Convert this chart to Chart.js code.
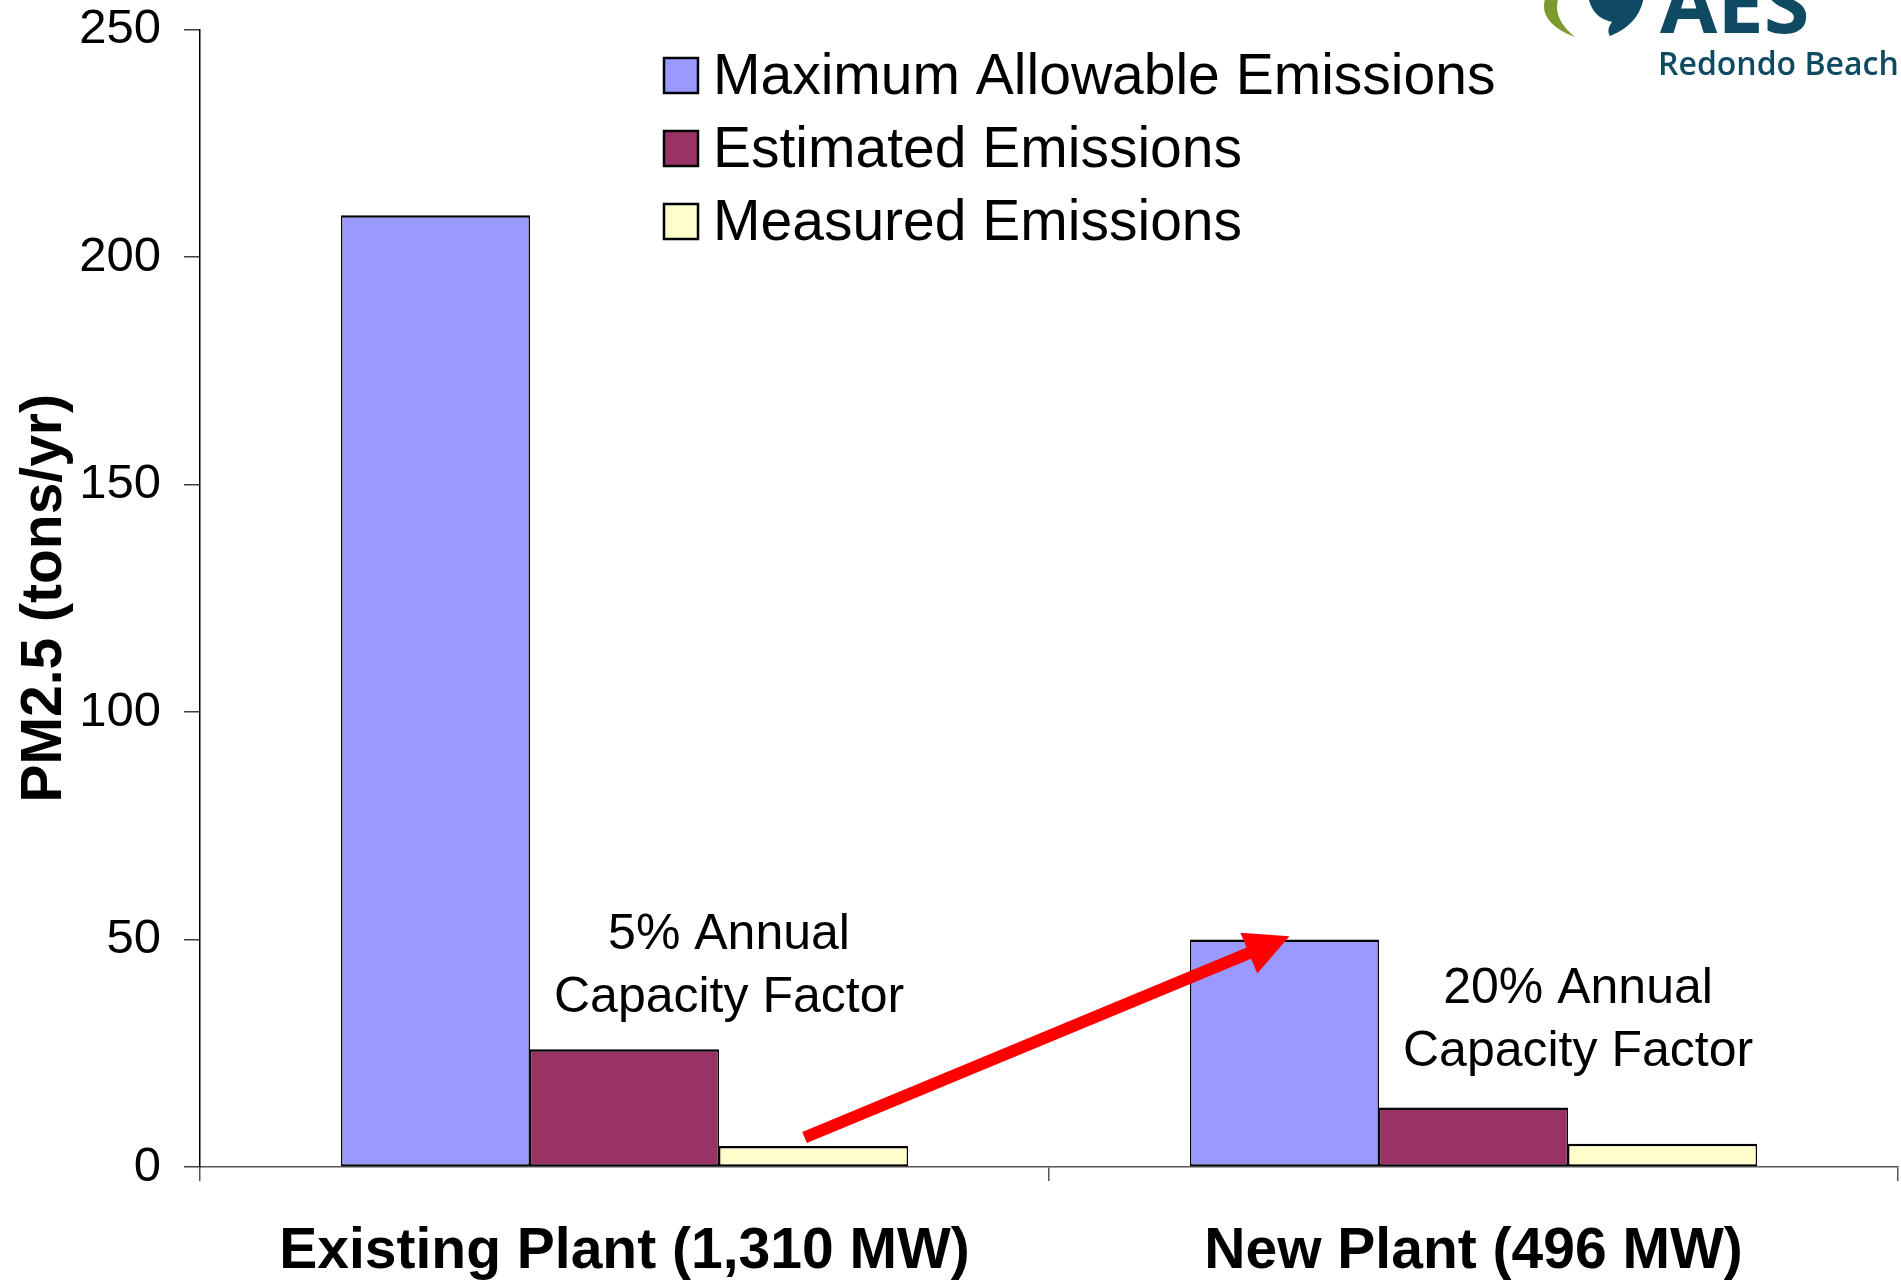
<!DOCTYPE html>
<html>
<head>
<meta charset="utf-8">
<script src="https://cdn.jsdelivr.net/npm/chart.js@4.4.1/dist/chart.umd.min.js"></script>
<style>
  html, body { margin: 0; padding: 0; background: #fff; }
  #wrap { width: 1901px; height: 1283px; }
</style>
</head>
<body>
<div id="wrap"><canvas id="pmChart" width="1901" height="1283"></canvas></div>
<script>
// values (tons/yr)
var plants = ['Existing Plant (1,310 MW)', 'New Plant (496 MW)'];
var maxAllowable = [209.2, 50.0];
var estimated = [25.9, 13.1];
var measured = [4.6, 5.1];
var yTicks = [0, 50, 100, 150, 200, 250];
var seriesNames = ['Maximum Allowable Emissions', 'Estimated Emissions', 'Measured Emissions'];
var seriesColors = ['#9999FF', '#993366', '#FFFFCC'];
var capacityNotes = [['5% Annual', 'Capacity Factor'], ['20% Annual', 'Capacity Factor']];
var noteLevel = [44.2, 32.3];    // y value at the middle of each note
var arrowFrom = [6.5, 0];        // [value, plant index] on measured bar
var arrowTo = [50.7, 1];         // [value, plant index] on max allowable bar

Chart.defaults.font.family = "'Liberation Sans', Arial, sans-serif";
Chart.defaults.color = '#000';

var barBorder = {top: 2.5, right: 1.5, bottom: 2, left: 1.5};

// legend, notes, arrow and logo
var extras = {
  id: 'extras',
  afterDatasetsDraw: function(chart) {
    var ctx = chart.ctx;
    var y = chart.scales.y;
    ctx.save();

    // legend
    ctx.font = "57px 'Liberation Sans', Arial, sans-serif";
    ctx.textBaseline = 'middle';
    ctx.textAlign = 'left';
    chart.data.datasets.forEach(function(ds, i) {
      var cy = 76 + i * 73;
      ctx.fillStyle = ds.backgroundColor;
      ctx.fillRect(664, cy - 18, 34, 35);
      ctx.lineWidth = 2.5;
      ctx.strokeStyle = '#000';
      ctx.strokeRect(664, cy - 18, 34, 35);
      ctx.fillStyle = '#000';
      ctx.fillText(ds.label, 713, cy + 2);
    });

    // capacity factor notes
    ctx.font = "50px 'Liberation Sans', Arial, sans-serif";
    ctx.textAlign = 'center';
    var est = chart.getDatasetMeta(1).data;
    capacityNotes.forEach(function(lines, i) {
      var bx = est[i].x + est[i].width / 2 + 10;
      var my = y.getPixelForValue(noteLevel[i]);
      ctx.fillText(lines[0], bx, my - 31);
      ctx.fillText(lines[1], bx, my + 32);
    });

    // red arrow
    var m0 = chart.getDatasetMeta(2).data[arrowFrom[1]];
    var m1 = chart.getDatasetMeta(0).data[arrowTo[1]];
    var x0 = m0.x - 9, y0 = y.getPixelForValue(arrowFrom[0]);
    var x1 = m1.x + 5, y1 = y.getPixelForValue(arrowTo[0]);
    var ang = Math.atan2(y1 - y0, x1 - x0);
    var headLen = 44, headW = 22;
    var bxh = x1 - headLen * Math.cos(ang), byh = y1 - headLen * Math.sin(ang);
    ctx.strokeStyle = '#FF0000';
    ctx.lineWidth = 12;
    ctx.beginPath();
    ctx.moveTo(x0, y0);
    ctx.lineTo(bxh + 4 * Math.cos(ang), byh + 4 * Math.sin(ang));
    ctx.stroke();
    ctx.fillStyle = '#FF0000';
    ctx.beginPath();
    ctx.moveTo(x1, y1);
    ctx.lineTo(bxh - headW * Math.sin(ang), byh + headW * Math.cos(ang));
    ctx.lineTo(bxh + headW * Math.sin(ang), byh - headW * Math.cos(ang));
    ctx.closePath();
    ctx.fill();

    // AES logo (cut off at top)
    ctx.fillStyle = '#7A9A2E';
    ctx.beginPath();
    ctx.moveTo(1546, -4);
    ctx.quadraticCurveTo(1536, 22, 1575, 37);
    ctx.quadraticCurveTo(1551, 18, 1559, -4);
    ctx.closePath();
    ctx.fill();
    ctx.fillStyle = '#0F4A63';
    ctx.beginPath();
    ctx.moveTo(1588, -4);
    ctx.quadraticCurveTo(1592, 18, 1612, 22);
    ctx.quadraticCurveTo(1606, 30, 1610, 36);
    ctx.quadraticCurveTo(1640, 24, 1644, -4);
    ctx.closePath();
    ctx.fill();
    ctx.font = "bold 83px 'Open Sans', 'DejaVu Sans', sans-serif";
    ctx.textAlign = 'left';
    ctx.textBaseline = 'alphabetic';
    ctx.fillText('AES', 1660, 33);
    ctx.font = "600 32px 'Open Sans', 'DejaVu Sans', sans-serif";
    ctx.fillText('Redondo Beach', 1658, 75);
    ctx.restore();
  }
};

var ctx = document.getElementById('pmChart');
new Chart(ctx, {
  type: 'bar',
  data: {
    labels: plants,
    datasets: [
      { label: seriesNames[0], data: maxAllowable, backgroundColor: seriesColors[0] },
      { label: seriesNames[1], data: estimated, backgroundColor: seriesColors[1] },
      { label: seriesNames[2], data: measured, backgroundColor: seriesColors[2] }
    ].map(function(d) {
      d.borderColor = '#000';
      d.borderWidth = barBorder;
      d.borderSkipped = false;
      d.categoryPercentage = 0.668;
      d.barPercentage = 1.0;
      return d;
    })
  },
  options: {
    responsive: false,
    animation: false,
    layout: { padding: { top: 29.5, right: 3, left: 0, bottom: 0 } },
    plugins: {
      legend: { display: false },
      tooltip: { enabled: false }
    },
    scales: {
      x: {
        afterFit: function(s) { s.height = 116; },
        grid: { offset: true, drawOnChartArea: false, tickLength: 14, color: '#555', lineWidth: 1.5 },
        border: { color: '#555', width: 1.5 },
        ticks: { padding: 37, font: { size: 57, weight: 'bold' }, color: '#000' }
      },
      y: {
        min: 0,
        max: 250,
        afterFit: function(s) { s.width = 200; s.paddingTop = 0; s.paddingBottom = 0; },
        afterBuildTicks: function(s) { s.ticks = yTicks.map(function(v) { return {value: v}; }); },
        grid: { drawOnChartArea: false, tickLength: 16, color: '#404040', lineWidth: 1.5 },
        border: { color: '#000', width: 1.5 },
        ticks: { padding: 23, font: { size: 49 }, color: '#000' },
        title: {
          display: true,
          text: 'PM2.5 (tons/yr)',
          font: { size: 57, weight: 'bold' },
          color: '#000',
          padding: { top: 11, bottom: 0 }
        }
      }
    }
  },
  plugins: [extras]
});
</script>
</body>
</html>
